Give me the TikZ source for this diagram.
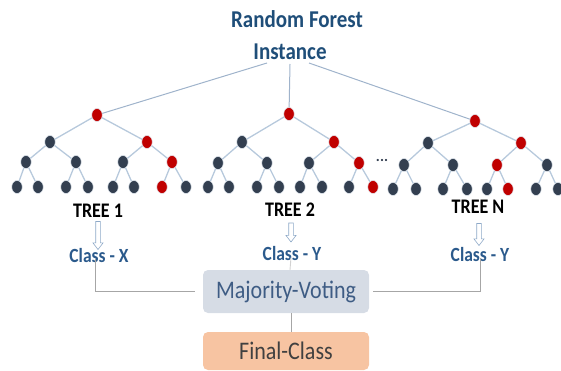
\documentclass[tikz,border=0pt]{standalone}
\usepackage{fontspec}
\setmainfont{Carlito}
\usetikzlibrary{shapes.geometric,shapes.arrows,calc}
\definecolor{titleblue}{HTML}{1F4E79}
\definecolor{classblue}{HTML}{2B5A8C}
\definecolor{darknode}{HTML}{333F50}
\definecolor{rednode}{HTML}{C00000}
\definecolor{edgec}{HTML}{B7C9DC}
\definecolor{rootc}{HTML}{9FB3CB}
\definecolor{majfill}{HTML}{D6DCE5}
\definecolor{majtext}{HTML}{3E5C84}
\definecolor{finfill}{HTML}{F7C4A2}
\definecolor{fintext}{HTML}{404040}
\definecolor{connc}{HTML}{A6A6A6}
\definecolor{arrowc}{HTML}{8EA9C8}
\newcommand\vst[1]{\scalebox{1}[1.15]{#1}}
\tikzset{
  tn/.style={ellipse, minimum width=10.5pt, minimum height=13pt, inner sep=0pt, draw=white!60!edgec, line width=0.5pt},
  dk/.style={tn, fill=darknode},
  rd/.style={tn, fill=rednode},
  tedge/.style={draw=edgec, line width=1.3pt},
  rootedge/.style={draw=rootc, line width=1pt},
  titletext/.style={font=\fontsize{21}{25}\selectfont\bfseries, text=titleblue, anchor=base, inner sep=0pt},
  treelbl/.style={font=\fontsize{18}{20}\selectfont\bfseries, text=black, anchor=base, inner sep=0pt},
  classlbl/.style={font=\fontsize{17.5}{20}\selectfont\bfseries, text=classblue, anchor=base, inner sep=0pt},
  hollow/.style={single arrow, draw=arrowc, fill=white, line width=0.6pt, shape border rotate=270,
     single arrow head extend=2.8pt, inner sep=2pt, single arrow tip angle=75},
  conn/.style={draw=connc, line width=0.9pt},
  majbox/.style={rounded corners=5pt, fill=majfill, minimum width=166pt, minimum height=43pt,
     font=\fontsize{22}{26}\selectfont, text=majtext, inner sep=0pt},
  finbox/.style={rounded corners=5pt, fill=finfill, minimum width=166pt, minimum height=38pt,
     font=\fontsize{22}{26}\selectfont, text=fintext, inner sep=0pt},
}
\begin{document}
\begin{tikzpicture}[x=1pt,y=-1pt]
\useasboundingbox (0,0) rectangle (561,371);
% title
\node[titletext] (rf) at (297,28) {\vst{Random Forest}};
\node[titletext] (inst) at (290,60) {\vst{Instance}};
\coordinate (il) at (267,63);
\coordinate (im) at (290,64);
\coordinate (ir) at (309,63);
% tree 1
\foreach \n/\x/\y/\s in {1/97/115/rd,2/50/142/dk,3/147/142/rd,4/26/162/dk,5/76/162/dk,6/123/162/dk,7/172/162/rd,
  8/17/187/dk,9/38/187/dk,10/66/187/dk,11/88/187/dk,12/113/187/dk,13/134/187/dk,14/162/187/rd,15/186/187/dk}
  \node[\s] (a\n) at (\x,\y) {};
% tree 2
\foreach \n/\x/\y/\s in {1/289/114/rd,2/242/142/dk,3/334/142/rd,4/218/163/dk,5/267/163/dk,6/309/163/dk,7/359/163/rd,
  8/208/187/dk,9/229/187/dk,10/257/187/dk,11/279/187/dk,12/300/187/dk,13/322/187/dk,14/349/187/dk,15/373/187/rd}
  \node[\s] (b\n) at (\x,\y) {};
% tree N
\foreach \n/\x/\y/\s in {1/475/121/rd,2/428/143/dk,3/521/143/rd,4/404/165/dk,5/453/165/dk,6/497/165/rd,7/547/165/dk,
  8/393/189/dk,9/416/189/dk,10/443/189/dk,11/467/189/dk,12/487/189/dk,13/508/189/rd,14/536/189/dk,15/558/189/dk}
  \node[\s] (c\n) at (\x,\y) {};
% tree edges
\foreach \t in {a,b,c}{
  \foreach \i in {2,...,15}{
    \pgfmathtruncatemacro\p{\i/2}
    \draw[tedge] (\t\p) -- (\t\i);
  }
}
% instance lines
\draw[rootedge] (il) -- (a1);
\draw[rootedge] (im) -- (b1);
\draw[rootedge] (ir) -- (c1);
% dots
\node[font=\fontsize{15}{16}\selectfont\bfseries, text=darknode, inner sep=0pt] (dots) at (382,160) {...};
% labels
\node[treelbl] (t1) at (98,217) {\vst{TREE 1}};
\node[treelbl] (t2) at (290,216) {\vst{TREE 2}};
\node[treelbl] (tn) at (478,213) {\vst{TREE N}};
\node[hollow, minimum height=28pt] (ar1) at (98,234) {};
\node[hollow, minimum height=19pt] (ar2) at (291,231) {};
\node[hollow, minimum height=22pt] (ar3) at (479,233) {};
\node[classlbl] (cx) at (99,262) {\vst{Class - X}};
\node[classlbl] (cy2) at (292,260) {\vst{Class - Y}};
\node[classlbl] (cyn) at (480,261) {\vst{Class - Y}};
% boxes
\node[majbox] (maj) at (286,291.5) {\vst{Majority-Voting}};
\node[finbox] (fin) at (286,351) {\vst{Final-Class}};
% connectors
\draw[conn] ([xshift=-4pt,yshift=3pt]cx.south) |- ([xshift=-8pt]maj.west);
\draw[conn] ([yshift=3pt]cyn.south) |- ([xshift=4pt]maj.east);
\draw[conn, draw=connc!50] ([xshift=-1pt,yshift=3pt]cy2.south) -- ([xshift=4pt]maj.north);
\draw[conn] ([xshift=5pt]maj.south) -- ([xshift=5pt]fin.north);
\end{tikzpicture}
\end{document}
